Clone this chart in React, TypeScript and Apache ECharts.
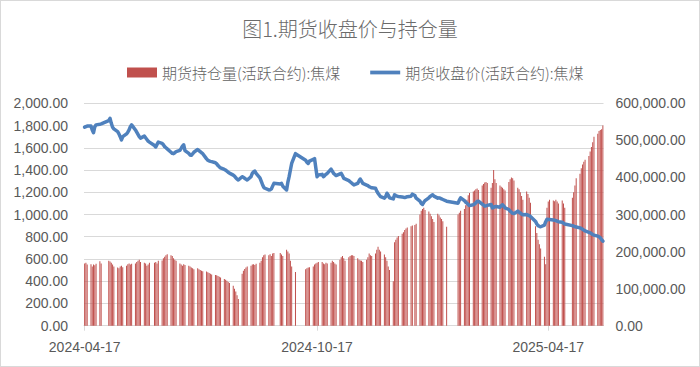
import React, { useEffect, useRef } from "react";
import * as echarts from "echarts";

const TITLE = "图1.期货收盘价与持仓量";
const BAR_NAME = "期货持仓量(活跃合约):焦煤";
const LINE_NAME = "期货收盘价(活跃合约):焦煤";

const START_DATE = "2024-04-17";
const END_DATE = "2025-05-30";
// exchange holidays (weekdays without trading)
const HOLIDAYS = [
  "2024-05-01", "2024-05-02", "2024-05-03", "2024-06-10", "2024-09-16", "2024-09-17",
  "2024-10-01", "2024-10-02", "2024-10-03", "2024-10-04", "2024-10-07",
  "2025-01-01", "2025-01-28", "2025-01-29", "2025-01-30", "2025-01-31", "2025-02-03", "2025-02-04",
  "2025-04-04", "2025-05-01", "2025-05-02", "2025-05-05",
];
const X_TICK_LABELS = ["2024-04-17", "2024-10-17", "2025-04-17"];

// closing price, one per trading day (grouped by week)
const CLOSE_PRICE = [
  1785, 1790, 1795,
  1795, 1760, 1735, 1790, 1806,
  1812, 1815,
  1845, 1865, 1820, 1785, 1770,
  1745, 1725, 1700, 1670, 1700,
  1725, 1740, 1760, 1790, 1806,
  1760, 1740, 1720, 1700, 1687,
  1705, 1690, 1675, 1660, 1651,
  1620, 1607, 1630, 1651,
  1640, 1627, 1610, 1600, 1590,
  1560, 1550, 1547, 1555, 1565,
  1576, 1595, 1615, 1627, 1575,
  1550, 1535, 1532, 1545, 1560,
  1585, 1575, 1565, 1555, 1547,
  1500, 1488, 1482, 1478, 1475,
  1465, 1455, 1440, 1429, 1420,
  1405, 1399, 1390, 1380, 1372,
  1354, 1345, 1330, 1318, 1310,
  1340, 1335, 1325, 1318, 1310,
  1340, 1370, 1384, 1390, 1370,
  1330, 1300, 1270, 1245, 1236,
  1221, 1222, 1230, 1255, 1280,
  1275, 1280, 1255,
  1221, 1290, 1340, 1400, 1459,
  1547,
  1488, 1470, 1459, 1480,
  1495, 1503, 1420, 1340, 1355,
  1361, 1340, 1350, 1361, 1370,
  1408, 1390, 1370, 1360, 1350,
  1365, 1370, 1350, 1325, 1320,
  1305, 1295, 1285, 1275, 1266,
  1280, 1301, 1319, 1300, 1280,
  1265, 1260, 1250, 1245, 1240,
  1236, 1210, 1191, 1175, 1160,
  1147, 1160, 1191, 1175, 1150,
  1140, 1177, 1170, 1165, 1162,
  1158, 1155, 1153, 1155, 1160,
  1165, 1183, 1170, 1147,
  1120, 1100, 1090, 1110, 1124,
  1150, 1162, 1170, 1177, 1165,
  1147, 1150, 1147, 1140, 1135,
  1120,
  1102, 1130, 1150,
  1124, 1110, 1102, 1090, 1080,
  1088, 1095, 1105, 1117, 1120,
  1093, 1085, 1075, 1078, 1082,
  1090, 1060, 1065, 1070, 1072,
  1065, 1080, 1088, 1075, 1060,
  1045, 1030, 1020, 1010, 1008,
  1030, 1020, 1013, 1005, 998,
  1000, 995, 990, 983,
  938, 915, 900, 894, 890,
  905, 935, 958, 955, 955,
  950, 948, 945, 940, 935,
  930, 922, 915,
  900, 895, 890, 888,
  880, 875, 868, 860, 852,
  840, 835, 828, 820, 815,
  805, 800, 790, 775, 761,
];

// open interest, one per trading day (grouped by week)
const OPEN_INTEREST = [
  168000, 170000, 165000,
  166000, 160000, 165000, 163000, 167000,
  174000, 168000,
  175000, 173000, 170000, 165000, 160000,
  157000, 155000, 160000, 162000, 158000,
  162000, 166000, 168000, 165000, 167000,
  168000, 172000, 175000, 178000, 172000,
  170000, 168000, 162000, 165000, 170000,
  170000, 172000, 168000, 175000,
  176000, 182000, 186000, 190000, 193000,
  190000, 188000, 182000, 178000, 175000,
  168000, 165000, 162000, 166000, 164000,
  162000, 160000, 157000, 155000, 152000,
  155000, 152000, 150000, 148000, 147000,
  146000, 144000, 142000, 140000, 138000,
  137000, 136000, 134000, 132000, 130000,
  126000, 124000, 121000, 118000, 115000,
  108000, 100000, 92000, 82000, 72000,
  140000, 148000, 153000, 157000, 160000,
  162000, 165000, 166000, 164000, 167000,
  170000, 175000, 185000, 190000, 192000,
  190000, 193000, 188000, 195000, 196000,
  196000, 192000, 188000,
  205000, 200000, 195000, 175000, 160000,
  145000,
  152000, 155000, 157000, 158000,
  160000, 165000, 168000, 170000, 172000,
  172000, 168000, 166000, 170000, 168000,
  170000, 175000, 172000, 168000, 165000,
  178000, 185000, 188000, 182000, 175000,
  185000, 188000, 190000, 190000, 188000,
  182000, 178000, 176000, 175000, 172000,
  178000, 185000, 195000, 190000, 188000,
  195000, 205000, 213000, 205000, 200000,
  192000, 185000, 175000, 160000, 150000,
  120000, 225000, 232000, 238000, 242000,
  248000, 252000, 258000, 262000, 265000,
  268000, 270000, 272000, 275000,
  300000, 310000, 315000, 318000, 312000,
  308000, 302000, 295000, 288000, 280000,
  302000, 298000, 292000, 288000, 282000,
  267000,
  300000, 305000, 310000,
  315000, 325000, 340000, 352000, 358000,
  362000, 365000, 368000, 370000, 366000,
  378000, 382000, 386000, 388000, 385000,
  372000, 385000, 420000, 395000, 385000,
  378000, 375000, 372000, 368000, 365000,
  388000, 395000, 400000, 398000, 392000,
  372000, 368000, 360000, 350000, 340000,
  362000, 355000, 345000, 332000,
  268000, 250000, 232000, 220000, 208000,
  186000, 166000, 318000, 335000, 340000,
  338000, 336000, 340000, 335000, 330000,
  338000, 330000, 318000,
  345000, 360000, 378000, 398000,
  410000, 425000, 435000, 442000, 448000,
  458000, 470000, 482000, 495000, 510000,
  518000, 525000, 528000, 530000, 540000,
];

const DAY_MS = 86400000;
const toMs = (s: string) => Date.parse(s + "T00:00:00Z");
const dayOffset = (s: string) => Math.round((toMs(s) - toMs(START_DATE)) / DAY_MS);
const offsetToDate = (n: number) => new Date(toMs(START_DATE) + Math.round(n) * DAY_MS).toISOString().slice(0, 10);

function tradingDays(): string[] {
  const out: string[] = [];
  const end = toMs(END_DATE);
  for (let t = toMs(START_DATE); t <= end; t += DAY_MS) {
    const d = new Date(t);
    const wd = d.getUTCDay();
    const s = d.toISOString().slice(0, 10);
    if (wd !== 0 && wd !== 6 && HOLIDAYS.indexOf(s) < 0) out.push(s);
  }
  return out;
}

const fmt2 = (v: number) =>
  v.toLocaleString("en-US", { minimumFractionDigits: 2, maximumFractionDigits: 2 });

const NUM_FONT = "'Liberation Sans', Arial, sans-serif";
const CJK_FONT = "'Noto Sans CJK SC', 'Noto Sans', sans-serif";
const TEXT_COLOR = "#595959";

export default function App() {
  const ref = useRef<HTMLDivElement>(null);
  useEffect(() => {
    if (!ref.current) return;
    const chart = echarts.init(ref.current, null, { renderer: "svg" });
    const days = tradingDays();
    const n = Math.min(days.length, CLOSE_PRICE.length, OPEN_INTEREST.length);
    const barData: number[][] = [];
    const lineData: number[][] = [];
    for (let i = 0; i < n; i++) {
      const x = dayOffset(days[i]);
      barData.push([x, OPEN_INTEREST[i]]);
      lineData.push([x, CLOSE_PRICE[i]]);
    }
    const lastDay = dayOffset(END_DATE);
    const tickVals = X_TICK_LABELS.map(dayOffset);
    chart.setOption({
      animation: false,
      backgroundColor: "#ffffff",
      title: {
        text: TITLE,
        left: "center",
        top: 12,
        textStyle: { fontFamily: CJK_FONT, fontSize: 20, fontWeight: 300, color: "#6b6b6b" },
      },
      legend: {
        left: 121,
        top: 59,
        itemWidth: 30,
        itemHeight: 10,
        itemGap: 30,
        symbolKeepAspect: true,
        data: [
          { name: BAR_NAME, icon: "rect" },
          { name: LINE_NAME, icon: "path://M0,0L32,0L32,4L0,4Z" },
        ],
        textStyle: { fontFamily: CJK_FONT, fontSize: 15, fontWeight: 300, color: "#626262" },
      },
      grid: { left: 83, right: 95.5, top: 102.3, bottom: 40.3, containLabel: false },
      xAxis: {
        type: "value",
        min: -0.5,
        max: lastDay + 0.5,
        splitLine: { show: false },
        axisLine: { show: true, lineStyle: { color: "#d9d9d9", width: 1 } },
        axisTick: { show: true, length: 5, customValues: tickVals, lineStyle: { color: "#d9d9d9" } },
        axisLabel: {
          customValues: tickVals,
          formatter: (v: number) => offsetToDate(v),
          fontFamily: NUM_FONT,
          fontSize: 14,
          color: TEXT_COLOR,
          margin: 14,
        },
      },
      yAxis: [
        {
          type: "value",
          min: 0,
          max: 2000,
          interval: 200,
          axisLine: { show: false },
          axisTick: { show: false },
          splitLine: { show: true, lineStyle: { color: "#d9d9d9", width: 1 } },
          axisLabel: { formatter: (v: number) => fmt2(v), fontFamily: NUM_FONT, fontSize: 14, color: TEXT_COLOR, margin: 16 },
        },
        {
          type: "value",
          min: 0,
          max: 600000,
          interval: 100000,
          axisLine: { show: false },
          axisTick: { show: false },
          splitLine: { show: false },
          axisLabel: { formatter: (v: number) => fmt2(v), fontFamily: NUM_FONT, fontSize: 14, color: TEXT_COLOR, margin: 12 },
        },
      ],
      series: [
        {
          name: BAR_NAME,
          type: "bar",
          yAxisIndex: 1,
          data: barData,
          barWidth: 0.75,
          itemStyle: { color: "#C0504D" },
        },
        {
          name: LINE_NAME,
          type: "line",
          yAxisIndex: 0,
          data: lineData,
          symbol: "none",
          lineStyle: { color: "#4F81BD", width: 3.5, join: "round", cap: "round" },
          itemStyle: { color: "#4F81BD" },
          z: 3,
        },
      ],
    });
    return () => chart.dispose();
  }, []);
  return (
    <div
      ref={ref}
      style={{ position: "fixed", left: 0, top: 0, width: 700, height: 367, boxSizing: "border-box", border: "1px solid #d9d9d9", background: "#fff" }}
    />
  );
}
